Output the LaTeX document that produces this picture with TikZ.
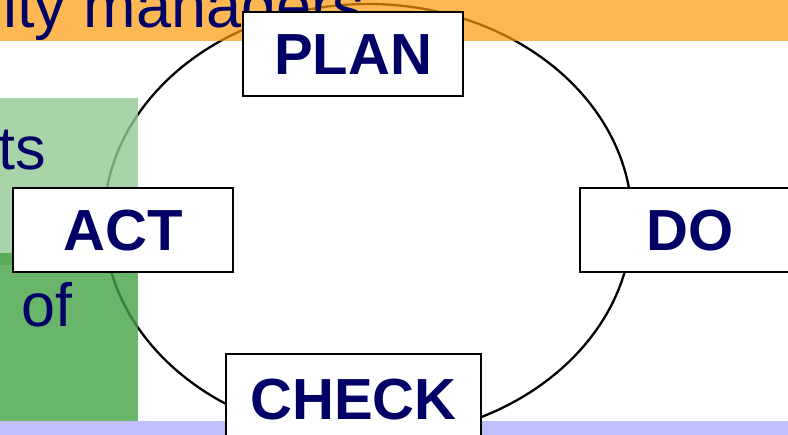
\documentclass[tikz,border=0pt]{standalone}
\usepackage{fontspec}
\setmainfont{Liberation Sans}
\definecolor{navy}{RGB}{0,0,102}
\definecolor{orangebar}{RGB}{252,154,11}
\definecolor{lightgreen}{RGB}{147,201,147}
\definecolor{darkgreen}{RGB}{68,162,69}
\definecolor{lavender}{RGB}{192,192,255}
\tikzset{
  stage/.style={draw=black, line width=2.8pt, fill=white, minimum width=220pt,
    minimum height=84pt, inner sep=0pt, text=navy,
    font=\fontsize{58}{60}\selectfont\bfseries, text height=42pt, text depth=0pt},
  bigtext/.style={text=navy, inner sep=0pt, anchor=base west}
}
\begin{document}
\begin{tikzpicture}[x=1pt,y=-1pt]
\useasboundingbox (0,0) rectangle (788,435);
% cycle ellipse
\draw[line width=2.3pt] (368,221) ellipse [x radius=264pt, y radius=217pt];
% orange title bar
\fill[orangebar, opacity=0.7] (0,0) rectangle (788,41);
\node[bigtext, font=\fontsize{63}{65}\selectfont] (title) at (3,28) {ity managers};
% green panels
\fill[lightgreen, opacity=0.8] (0,98) rectangle (138,265);
\fill[darkgreen, opacity=0.8] (0,253) rectangle (138,421);
\node[bigtext, font=\fontsize{61}{63}\selectfont] (ts) at (-2,170) {ts};
\node[bigtext, font=\fontsize{61}{63}\selectfont] (of) at (21,327) {of};
% lavender bottom bar
\fill[lavender] (0,421) rectangle (788,435);
% stage boxes
\node[stage] (plan) at (353,54) {PLAN};
\node[stage] (act) at (123,230) {ACT};
\node[stage] (do) at (690,230) {DO};
\node[stage, minimum width=255pt, minimum height=90pt] (check) at (353.5,399) {CHECK};
\end{tikzpicture}
\end{document}
